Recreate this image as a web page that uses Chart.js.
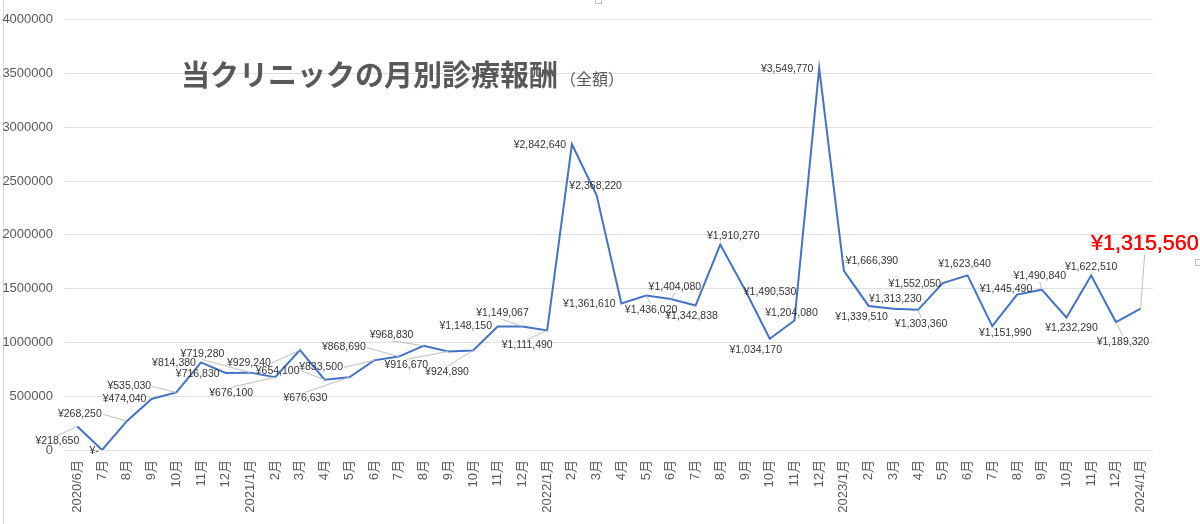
<!DOCTYPE html>
<html lang="ja">
<head>
<meta charset="utf-8">
<title>当クリニックの月別診療報酬</title>
<script src="https://cdn.jsdelivr.net/npm/chart.js@4.4.1/dist/chart.umd.min.js"></script>
<style>
  html, body { margin: 0; padding: 0; background: #fff; overflow: hidden; }
  canvas { display: block; }
</style>
</head>
<body>
<canvas id="chart" width="1200" height="524"></canvas>
<script>
'use strict';

// ── Data ──────────────────────────────────────────────────────
const months = [
  '2020/6月', '7月', '8月', '9月', '10月', '11月', '12月',
  '2021/1月', '2月', '3月', '4月', '5月', '6月', '7月', '8月', '9月', '10月', '11月', '12月',
  '2022/1月', '2月', '3月', '4月', '5月', '6月', '7月', '8月', '9月', '10月', '11月', '12月',
  '2023/1月', '2月', '3月', '4月', '5月', '6月', '7月', '8月', '9月', '10月', '11月', '12月',
  '2024/1月'
];

const revenue = [
  218650, 0, 268250, 474040, 535030, 814380, 716830,
  719280, 676100, 929240, 654100, 676630, 833500, 868690, 968830, 916670, 924890, 1148150, 1149067,
  1111490, 2842640, 2368220, 1361610, 1436020, 1404080, 1342838, 1910270, 1490530, 1034170, 1204080, 3549770,
  1666390, 1339510, 1313230, 1303360, 1552050, 1623640, 1151990, 1445490, 1490840, 1232290, 1622510, 1189320,
  1315560
];

const yTicks = [0, 500000, 1000000, 1500000, 2000000, 2500000, 3000000, 3500000, 4000000];

const TITLE     = '当クリニックの月別診療報酬';
const SUBTITLE  = '（全額）';

// ── Label placement (offset from point: dx, dy, leader line) ──
const labelOffsets = [
  [-20, 15, 1], [-8, 1, 0], [-47, -7, 1], [-27, 0, 0], [-47, -6, 1], [-27, 1, 0], [-28, 1, 0],
  [-48, -19, 1], [-44, 16, 1], [-51, 13, 1], [-47, -9, 1], [-44, 21, 1], [-53, 7, 1], [-55, -9, 1],
  [-32, -11, 1], [-42, 14, 1], [-26, 22, 1], [-32, 0, 0], [-20, -13, 1],
  [-20, 15, 1], [-32, 1, 0], [-1, -9, 0], [-32, 1, 0], [5, 15, 1], [4, -12, 1], [-4, 11, 0],
  [13, -8, 0], [25, 2, 0], [-14, 11, 0], [-3, -7, 0], [-32, 1, 0],
  [28, -10, 0], [-7, 11, 0], [2, -10, 0], [3, 14, 1], [-28, 1, 0], [-3, -11, 0], [13, 7, 0],
  [-11, -5, 0], [-2, -14, 1], [5, 11, 0], [0, -8, 0], [7, 20, 1],
  [4, -64, 1]
];

const LATIN = '"Liberation Sans", "Noto Sans CJK JP", sans-serif';
const CJK   = '"Noto Sans CJK JP", "Liberation Sans", sans-serif';

function yen(v) {
  return v === 0 ? '¥-' : '¥' + v.toLocaleString('en-US');
}

// ── Plugins ───────────────────────────────────────────────────
const backdrop = {
  id: 'backdrop',
  beforeDraw(chart) {
    const ctx = chart.ctx;
    ctx.save();
    ctx.fillStyle = '#ffffff';
    ctx.fillRect(0, 0, chart.width, chart.height);
    // chart frame edge on the left
    ctx.strokeStyle = '#d9d9d9';
    ctx.lineWidth = 1;
    ctx.beginPath();
    ctx.moveTo(3.5, 0);
    ctx.lineTo(3.5, chart.height);
    ctx.stroke();
    // selection handles
    ctx.strokeStyle = '#bfbfbf';
    ctx.strokeRect(595.5, -2.5, 6, 6);
    ctx.strokeRect(1195.5, 259.5, 6, 6);
    ctx.restore();
  }
};

const titleText = {
  id: 'titleText',
  afterDatasetsDraw(chart) {
    const ctx = chart.ctx;
    ctx.save();
    ctx.fillStyle = '#595959';
    ctx.textBaseline = 'middle';
    ctx.textAlign = 'left';
    ctx.font = 'bold 29px ' + CJK;
    ctx.fillText(TITLE, 181, 75);
    const w = ctx.measureText(TITLE).width;
    ctx.font = '16px ' + CJK;
    ctx.fillText(SUBTITLE, 181 + w + 2, 79);
    ctx.restore();
  }
};

const valueLabels = {
  id: 'valueLabels',
  afterDatasetsDraw(chart) {
    const ctx  = chart.ctx;
    const meta = chart.getDatasetMeta(0);
    const last = revenue.length - 1;
    ctx.save();
    ctx.textAlign = 'center';
    ctx.textBaseline = 'middle';
    meta.data.forEach((pt, i) => {
      const [dx, dy, leader] = labelOffsets[i];
      const cx = pt.x + dx, cy = pt.y + dy;
      const text = yen(revenue[i]);
      const isLast = i === last;
      ctx.font = isLast ? '21.5px ' + LATIN : '10.5px ' + LATIN;
      const hw = ctx.measureText(text).width / 2 + 1;
      const hh = isLast ? 10 : 6;

      if (leader) {
        const vx = pt.x - cx, vy = pt.y - cy;
        let ax, ay;
        if (Math.abs(vx) / hw > Math.abs(vy) / hh) {
          ax = cx + Math.sign(vx) * hw; ay = cy;
        } else {
          ax = cx; ay = cy + Math.sign(vy) * hh;
        }
        ctx.strokeStyle = '#bfbfbf';
        ctx.lineWidth = 1;
        ctx.beginPath();
        ctx.moveTo(ax, ay);
        ctx.lineTo(pt.x, pt.y);
        ctx.stroke();
      }

      ctx.fillStyle = isLast ? '#ff0000' : '#333333';
      ctx.fillText(text, cx, cy);
      if (isLast) ctx.fillText(text, cx + 0.5, cy);
    });
    ctx.restore();
  }
};

// ── Chart ─────────────────────────────────────────────────────
new Chart(document.getElementById('chart').getContext('2d'), {
  type: 'line',
  data: {
    labels: months,
    datasets: [{
      data: revenue,
      borderColor: '#4472c4',
      borderWidth: 2,
      pointRadius: 0,
      tension: 0,
      fill: false
    }]
  },
  options: {
    responsive: false,
    animation: false,
    devicePixelRatio: 1,
    layout: { padding: { top: 7, right: 47, bottom: 0, left: 0 } },
    plugins: { legend: { display: false }, tooltip: { enabled: false }, title: { display: false } },
    scales: {
      x: {
        offset: true,
        border: { display: false },
        grid: { display: false, drawTicks: false },
        ticks: {
          autoSkip: false,
          minRotation: 90,
          maxRotation: 90,
          padding: 10,
          color: '#595959',
          font: { family: LATIN, size: 13 }
        },
        afterFit: s => { s.height = 74; }
      },
      y: {
        min: 0,
        max: 4000000,
        border: { display: false },
        grid: { color: '#e0e0e0', lineWidth: 1, drawTicks: false },
        afterBuildTicks: s => { s.ticks = yTicks.map(v => ({ value: v })); },
        ticks: {
          padding: 12,
          color: '#595959',
          font: { family: LATIN, size: 13 },
          callback: v => String(v)
        },
        afterFit: s => { s.width = 65; }
      }
    }
  },
  plugins: [backdrop, titleText, valueLabels]
});
</script>
</body>
</html>
